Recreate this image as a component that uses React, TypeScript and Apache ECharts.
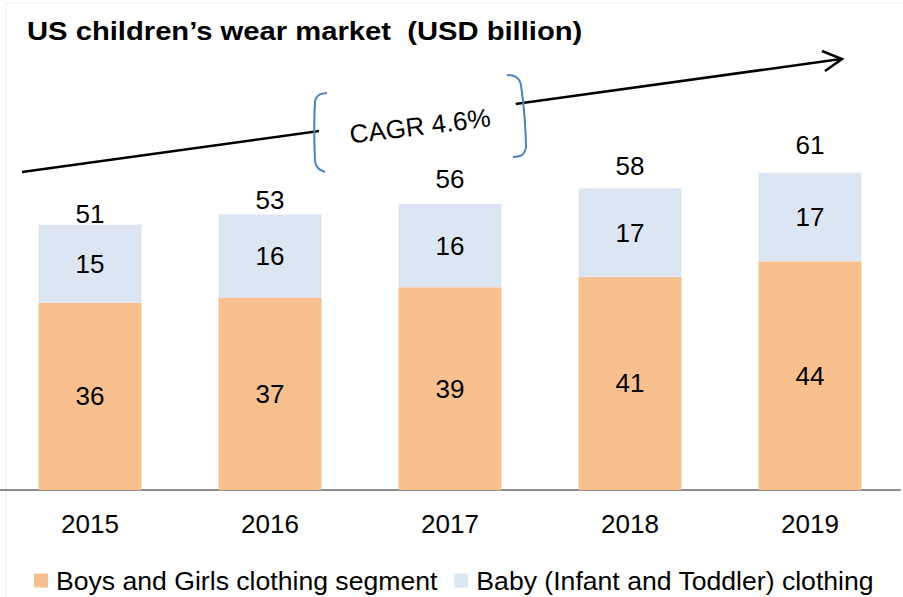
import React, { useEffect, useRef } from "react";
import * as echarts from "echarts";

const years = ["2015", "2016", "2017", "2018", "2019"];
const boysGirls = [36, 37, 39, 41, 44];
const baby = [15, 16, 16, 17, 17];
const totals = [51, 53, 56, 58, 61];
const seriesNames = ["Boys and Girls clothing segment", "Baby (Infant and Toddler) clothing"];
const titleText = "US children\u2019s wear market  (USD billion)";
const cagrText = "CAGR 4.6%";

const FONT = "Liberation Sans, Arial, sans-serif";

export default function App() {
  const ref = useRef<HTMLDivElement>(null);
  useEffect(() => {
    if (!ref.current) return;
    const chart = echarts.init(ref.current, undefined, { renderer: "svg" });
    const rot = (7 * Math.PI) / 180;
    chart.setOption({
      animation: false,
      backgroundColor: "#ffffff",
      textStyle: { fontFamily: FONT },
      legend: {
        left: 29,
        top: 562,
        itemWidth: 14,
        itemHeight: 14,
        itemGap: 17,
        icon: "rect",
        textStyle: { fontFamily: FONT, fontSize: 26.6, color: "#000", padding: [0, 0, 0, 3] },
        data: seriesNames,
      },
      grid: { left: 0, right: 3, top: 100, bottom: 107 },
      xAxis: {
        type: "category",
        data: years,
        axisLine: { lineStyle: { color: "#8c8c8c", width: 2 } },
        axisTick: { show: false },
        axisLabel: { fontFamily: FONT, fontSize: 26, color: "#000", margin: 21 },
      },
      yAxis: [
        {
          type: "value",
          min: 0,
          max: 75,
          show: false,
          splitLine: { show: false },
        },
        {
          type: "value",
          min: 11,
          max: 67.5,
          show: false,
          splitLine: { show: false },
        },
      ],
      series: [
        {
          name: seriesNames[0],
          type: "bar",
          stack: "s",
          data: boysGirls,
          barWidth: 103,
          itemStyle: { color: "#F9C08F" },
          label: { show: true, position: "inside", fontFamily: FONT, fontSize: 26, color: "#000" },
        },
        {
          name: seriesNames[1],
          type: "bar",
          stack: "s",
          data: baby,
          barWidth: 103,
          itemStyle: { color: "#DCE6F2" },
          label: { show: true, position: "inside", fontFamily: FONT, fontSize: 26, color: "#000" },
        },
        {
          name: "total",
          type: "line",
          yAxisIndex: 1,
          data: totals,
          symbol: "circle",
          symbolSize: 1,
          itemStyle: { color: "rgba(0,0,0,0)" },
          lineStyle: { opacity: 0 },
          label: {
            show: true,
            position: "inside",
            fontFamily: FONT,
            fontSize: 26,
            color: "#000",
          },
          tooltip: { show: false },
        },
      ],
      graphic: [
        {
          type: "rect",
          shape: { x: 6, y: 3, width: 900, height: 600 },
          style: { fill: "none", stroke: "#eeeeee", lineWidth: 1 },
          silent: true,
          z: 0,
        },
        {
          type: "text",
          x: 27,
          y: 31,
          scaleX: 1.168,
          style: {
            text: titleText,
            fontFamily: FONT,
            fontWeight: "bold",
            fontSize: 25,
            fill: "#000",
            textAlign: "left",
            textVerticalAlign: "middle",
          },
          z: 10,
        },
        {
          type: "line",
          shape: { x1: 22, y1: 172, x2: 841, y2: 59 },
          style: { stroke: "#000", lineWidth: 2.5 },
          z: 10,
        },
        {
          type: "polyline",
          shape: { points: [[822, 51], [842, 59], [825, 71]] },
          style: { stroke: "#000", lineWidth: 2.5, fill: "none" },
          z: 10,
        },
        {
          type: "polygon",
          shape: { points: [[318, 93], [510, 75], [526, 156], [320, 172]] },
          style: { fill: "#ffffff" },
          z: 11,
        },
        {
          type: "polyline",
          shape: {
            points: [[327, 93], [319, 95], [315, 102], [315, 161], [318, 168], [325, 172]],
            smooth: 0.3,
          },
          style: { stroke: "#4F81BD", lineWidth: 2, fill: "none" },
          z: 12,
        },
        {
          type: "polyline",
          shape: {
            points: [[507, 75], [516, 77], [521, 85], [526, 147], [522, 155], [513, 157]],
            smooth: 0.3,
          },
          style: { stroke: "#4F81BD", lineWidth: 2, fill: "none" },
          z: 12,
        },
        {
          type: "text",
          x: 420,
          y: 126,
          rotation: rot,
          style: {
            text: cagrText,
            fontFamily: FONT,
            fontSize: 26,
            fill: "#000",
            textAlign: "center",
            textVerticalAlign: "middle",
          },
          z: 13,
        },
      ],
    });
    return () => chart.dispose();
  }, []);
  return (
    <div
      ref={ref}
      style={{ position: "fixed", left: 0, top: 0, width: 903, height: 597 }}
    />
  );
}
